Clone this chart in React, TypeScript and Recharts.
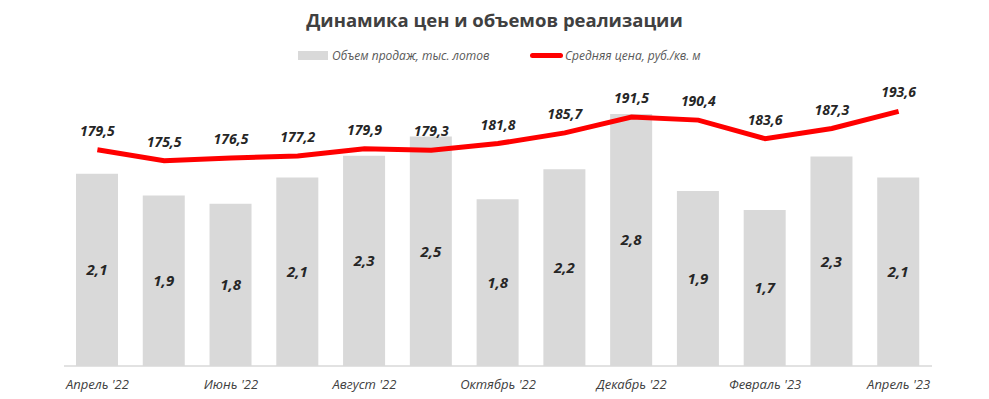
import { ComposedChart, Bar, Line, XAxis, YAxis, LabelList } from 'recharts';

// месяцы
const months = [
    "Апрель '22", "Май '22", "Июнь '22", "Июль '22", "Август '22", "Сентябрь '22",
    "Октябрь '22", "Ноябрь '22", "Декабрь '22", "Январь '23", "Февраль '23", "Март '23", "Апрель '23",
];
// объем продаж, тыс. лотов
const volumes = [2.12, 1.88, 1.79, 2.08, 2.32, 2.53, 1.84, 2.17, 2.78, 1.93, 1.72, 2.31, 2.08];
// средняя цена, руб./кв. м
const prices = [179.5, 175.5, 176.5, 177.2, 179.9, 179.3, 181.8, 185.7, 191.5, 190.4, 183.6, 187.3, 193.6];

const volumeDomain = [0, 3];
const priceDomain = [100, 200];

const chartData = months.map((m, i) => ({ month: m, volume: volumes[i], price: prices[i] }));

const fmt = (v: any) => Number(v).toFixed(1).replace('.', ',');

const FONT = '"Open Sans", sans-serif';

export default function App() {
    return (
        <div style={{ position: 'absolute', left: 0, top: 0, width: 989, height: 399, background: '#fff', fontFamily: FONT }}>
            <div style={{
                position: 'absolute', top: 7, left: 0, width: 989, textAlign: 'center',
                fontSize: 18.5, fontWeight: 'bold', color: '#404040'
            }}>
                Динамика цен и объемов реализации
            </div>
            {/* легенда */}
            <div style={{ position: 'absolute', top: 47, left: 298, display: 'flex', alignItems: 'center', fontSize: 12, fontStyle: 'italic', color: '#595959' }}>
                <span style={{ display: 'inline-block', width: 30, height: 9, background: '#d9d9d9', marginRight: 4 }} />
                <span>Объем продаж, тыс. лотов</span>
            </div>
            <div style={{ position: 'absolute', top: 47, left: 530, display: 'flex', alignItems: 'center', fontSize: 12, fontStyle: 'italic', color: '#595959' }}>
                <span style={{ display: 'inline-block', width: 33, height: 5, borderRadius: 3, background: '#ff0000', marginRight: 2 }} />
                <span>Средняя цена, руб./кв. м</span>
            </div>
            <ComposedChart
                width={989}
                height={399}
                data={chartData}
                margin={{ top: 94, right: 57, left: 64, bottom: 3 }}
            >
                <XAxis
                    dataKey="month"
                    interval={1}
                    height={30}
                    tickLine={false}
                    axisLine={{ stroke: '#d9d9d9', strokeWidth: 1.5 }}
                    tick={{ fontSize: 13, fontStyle: 'italic', fill: '#404040', fontFamily: FONT }}
                    tickMargin={8}
                />
                <YAxis yAxisId="vol" hide domain={volumeDomain} />
                <YAxis yAxisId="price" hide domain={priceDomain} />
                <Bar yAxisId="vol" dataKey="volume" fill="#d9d9d9" barSize={42} isAnimationActive={false}>
                    <LabelList
                        dataKey="volume"
                        position="center"
                        formatter={fmt}
                        style={{ fontSize: 15, fontWeight: 'bold', fontStyle: 'italic', fill: '#262626', fontFamily: FONT }}
                    />
                </Bar>
                <Line
                    yAxisId="price"
                    dataKey="price"
                    stroke="#ff0000"
                    strokeWidth={5}
                    dot={false}
                    type="linear"
                    isAnimationActive={false}
                >
                    <LabelList
                        dataKey="price"
                        position="top"
                        offset={14}
                        formatter={fmt}
                        style={{ fontSize: 14, fontWeight: 'bold', fontStyle: 'italic', fill: '#262626', fontFamily: FONT }}
                    />
                </Line>
            </ComposedChart>
        </div>
    );
}
